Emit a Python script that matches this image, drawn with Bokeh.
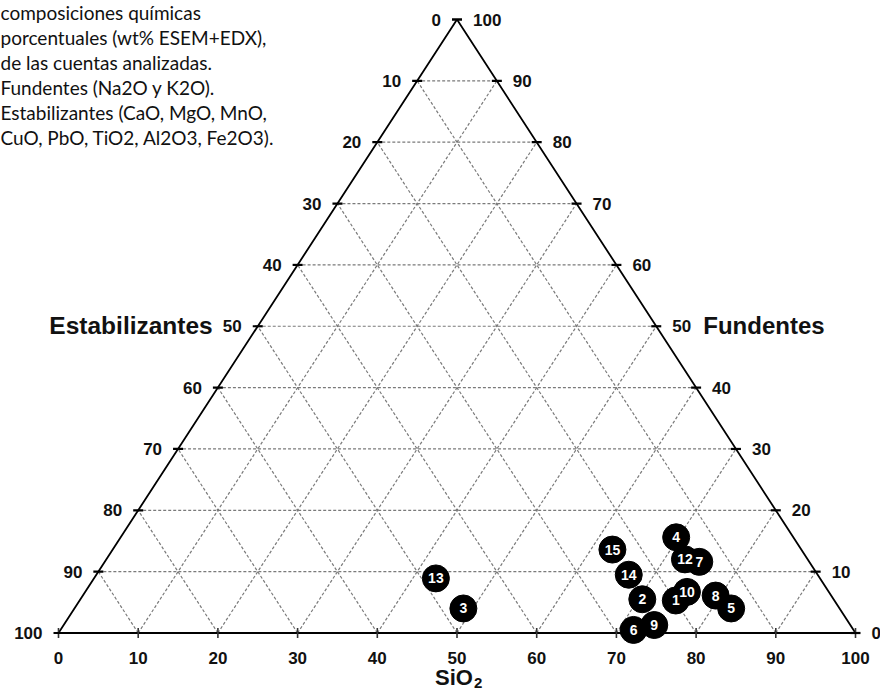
from bokeh.plotting import figure
from bokeh.models import Range1d, Label, ColumnDataSource
from bokeh.core.properties import value
from bokeh.embed import file_html
from bokeh.resources import INLINE

# ---- data (wt%) ----
labels = ["1", "2", "3", "4", "5", "6", "7", "8", "9", "10", "12", "13", "14", "15"]
sio2 = [74.8, 70.5, 48.8, 69.7, 82.4, 71.9, 74.6, 79.4, 74.1, 75.5, 72.6, 42.9, 66.8, 62.7]
fundentes = [5.3, 5.5, 4.0, 15.6, 4.0, 0.5, 11.6, 6.1, 1.3, 6.7, 12.0, 8.9, 9.5, 13.6]
estabilizantes = [round(100 - s - f, 1) for s, f in zip(sio2, fundentes)]

tick_values = [0, 10, 20, 30, 40, 50, 60, 70, 80, 90, 100]
note_lines = [
    "composiciones químicas",
    "porcentuales (wt% ESEM+EDX),",
    "de las cuentas analizadas.",
    "Fundentes (Na2O y K2O).",
    "Estabilizantes (CaO, MgO, MnO,",
    "CuO, PbO, TiO2, Al2O3, Fe2O3).",
]


def tern(s, f, e):
    tot = s + f + e
    s, f = 100.0 * s / tot, 100.0 * f / tot
    return s + f / 2.0, f


W, H = 880, 693
p = figure(width=W, height=H, output_backend="svg", toolbar_location=None,
           x_range=Range1d(-7.277, 103.136), y_range=Range1d(-9.861, 103.10),
           min_border=0, outline_line_color=None)
p.xaxis.visible = False
p.yaxis.visible = False
p.xgrid.visible = False
p.ygrid.visible = False
p.background_fill_color = "white"
p.border_fill_color = "white"

# ---- dashed grid ----
gx0, gy0, gx1, gy1 = [], [], [], []
for k in tick_values[1:-1]:
    a = tern(0, k, 100 - k); b = tern(100 - k, k, 0)
    gx0.append(a[0]); gy0.append(a[1]); gx1.append(b[0]); gy1.append(b[1])
    a = tern(k, 0, 100 - k); b = tern(k, 100 - k, 0)
    gx0.append(a[0]); gy0.append(a[1]); gx1.append(b[0]); gy1.append(b[1])
    a = tern(100 - k, 0, k); b = tern(0, 100 - k, k)
    gx0.append(a[0]); gy0.append(a[1]); gx1.append(b[0]); gy1.append(b[1])
p.segment(gx0, gy0, gx1, gy1, line_color="#7a7a7a", line_width=1.2, line_dash="3 2")

# ---- triangle outline ----
corners = [tern(0, 0, 100), tern(100, 0, 0), tern(0, 100, 0), tern(0, 0, 100)]
p.line([c[0] for c in corners], [c[1] for c in corners], line_color="black", line_width=1.8)

# ---- ticks and tick labels ----
bx, by, lx, ly, rx, ry = [], [], [], [], [], []
for k in tick_values:
    x, y = tern(k, 0, 100 - k); bx.append(x); by.append(y)
    x, y = tern(0, 100 - k, k); lx.append(x); ly.append(y)
    x, y = tern(100 - k, k, 0); rx.append(x); ry.append(y)
tick_txt = [str(k) for k in tick_values]

p.scatter(bx, by, marker="dash", angle=1.5708, size=10, line_color="#333333", line_width=1.6)
p.scatter(lx, ly, marker="dash", size=10, line_color="black", line_width=2.2)
p.scatter(rx, ry, marker="dash", size=10, line_color="black", line_width=2.2)

tfont = value("Liberation Sans")
p.text(bx, by, text=tick_txt, text_align="center", text_baseline="middle", y_offset=25,
       text_font=tfont, text_font_style="bold", text_font_size="17px", text_color="#111111")
p.text(lx, ly, text=tick_txt, text_align="right", text_baseline="middle", x_offset=-16,
       text_font=tfont, text_font_style="bold", text_font_size="17px", text_color="#111111")
p.text(rx, ry, text=tick_txt, text_align="left", text_baseline="middle", x_offset=16,
       text_font=tfont, text_font_style="bold", text_font_size="17px", text_color="#111111")

# ---- axis titles ----
ex, ey = tern(0, 50, 50)
p.text([ex], [ey], text=["Estabilizantes"], text_align="right", text_baseline="middle",
       x_offset=-45, y_offset=-1, text_font=tfont, text_font_style="bold", text_font_size="24.5px",
       text_color="#111111")
fx, fy = tern(50, 50, 0)
p.text([fx], [fy], text=["Fundentes"], text_align="left", text_baseline="middle",
       x_offset=47, y_offset=-1, text_font=tfont, text_font_style="bold", text_font_size="24px",
       text_color="#111111")
sx, sy = tern(50, 0, 50)
p.text([sx], [sy], text=["SiO"], text_align="left", text_baseline="middle",
       x_offset=-22, y_offset=44, text_font=tfont, text_font_style="bold", text_font_size="22px",
       text_color="#111111")
p.text([sx], [sy], text=["2"], text_align="left", text_baseline="middle",
       x_offset=17, y_offset=50, text_font=tfont, text_font_style="bold", text_font_size="15px",
       text_color="#111111")

# ---- samples ----
px_, py_ = [], []
for s, f, e in zip(sio2, fundentes, estabilizantes):
    x, y = tern(s, f, e); px_.append(x); py_.append(y)
src = ColumnDataSource(dict(x=px_, y=py_, t=labels))
p.scatter("x", "y", source=src, marker="circle", size=27, fill_color="black",
          line_color="black", line_width=1)
p.text("x", "y", text="t", source=src, text_align="center", text_baseline="middle",
       text_font=tfont, text_font_style="bold", text_font_size="14px", text_color="white")

# ---- note ----
for i, line in enumerate(note_lines):
    p.add_layout(Label(x=0, y=H - 12 - 25.0 * i, x_units="screen", y_units="screen",
                       text=line, text_baseline="middle", text_align="left",
                       text_font="Lato", text_font_size="19px", text_color="#111111"))

open("out.html", "w").write(file_html(p, INLINE))
